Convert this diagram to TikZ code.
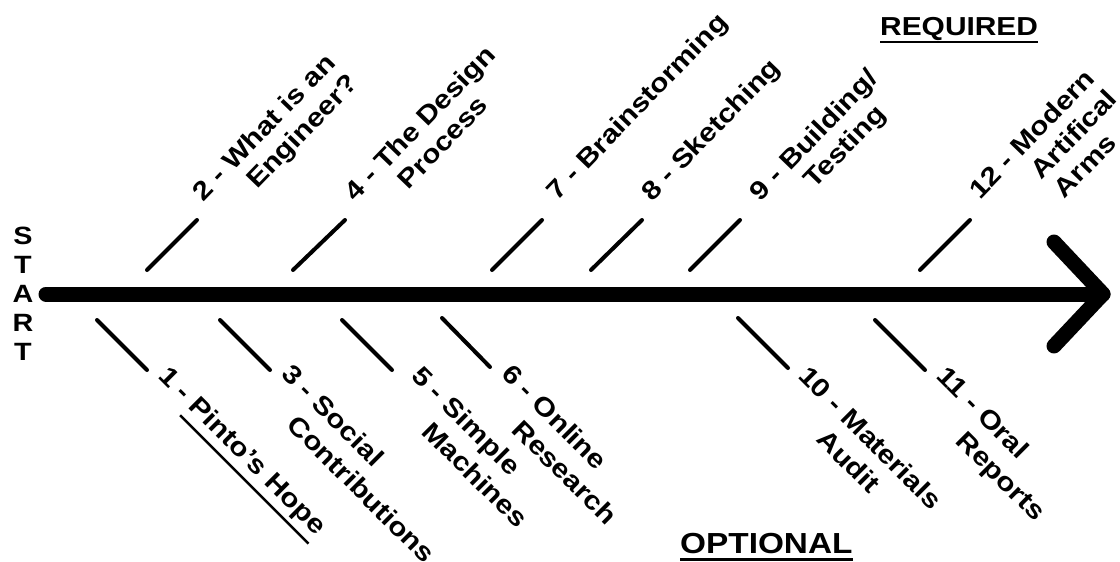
\documentclass[tikz,border=0pt]{standalone}
\usepackage{fontspec}
\setmainfont{Liberation Sans}[FakeStretch=1.15]
\newcommand\myul[2]{\setbox0\hbox{#2}\rlap{\rule[-#1]{\wd0}{2.5pt}}\box0}
\begin{document}
\begin{tikzpicture}[x=1pt,y=-1pt,
  lab/.style={font=\bfseries\fontsize{26}{31}\selectfont, inner sep=0pt, anchor=base west},
  uplab/.style={lab, rotate=46},
  dnlab/.style={lab, rotate=-45},
  tickline/.style={line width=4pt, line cap=round},
  spine/.style={line width=15pt, line cap=round, line join=round}]
\useasboundingbox[fill=white] (0,0) rectangle (1120,562);

% spine
\node[font=\bfseries\fontsize{25}{29}\selectfont, align=center, inner sep=0pt] (start) at (23,294) {S\\T\\A\\R\\T};
\coordinate (tail) at (46,294);
\coordinate (tip) at (1103,294);
\coordinate (barbU) at (1054,242);
\coordinate (barbD) at (1054,346);
\draw[spine] (tail) -- (tip);
\draw[spine] (barbU) -- (tip) -- (barbD);

% upper ticks
\draw[tickline] (147,270) -- (197,220);
\draw[tickline] (293,270) -- (345,220);
\draw[tickline] (492,270) -- (542,220);
\draw[tickline] (591,270) -- (642,220);
\draw[tickline] (690,270) -- (740,220);
\draw[tickline] (920,270) -- (970,220);
% lower ticks
\draw[tickline] (97,320) -- (147,370);
\draw[tickline] (220,320) -- (270,370);
\draw[tickline] (342,320) -- (392,370);
\draw[tickline] (442,318) -- (490,367);
\draw[tickline] (738,318) -- (788,368);
\draw[tickline] (875,320) -- (925,370);

% upper labels
\begin{scope}[shift={(203,203)}, rotate=46]
  \node[uplab] (l2a) at (0,0) {2 - What is an};
  \node[uplab] (l2b) at (47,30) {Engineer?};
\end{scope}
\begin{scope}[shift={(355,203)}, rotate=46]
  \node[uplab] (l4a) at (0,0) {4 - The Design};
  \node[uplab] (l4b) at (46,30) {Process};
\end{scope}
\node[uplab] (l7) at (557,202) {7 - Brainstorming};
\node[uplab] (l8) at (652,203) {8 - Sketching};
\begin{scope}[shift={(760,203)}, rotate=46]
  \node[uplab] (l9a) at (0,0) {9 - Building/};
  \node[uplab] (l9b) at (47,30) {Testing};
\end{scope}
\begin{scope}[shift={(980,201)}, rotate=46]
  \node[uplab] (l12a) at (0,0) {12 - Modern};
  \node[uplab] (l12b) at (57,30) {Artifical};
  \node[uplab] (l12c) at (60,60) {Arms};
\end{scope}

% lower labels
\node[dnlab] (l1) at (157,377) {1 - \myul{12pt}{Pinto's Hope}};
\begin{scope}[shift={(280,375)}, rotate=-45]
  \node[dnlab] (l3a) at (0,0) {3 - Social};
  \node[dnlab] (l3b) at (40,32) {Contributions};
\end{scope}
\begin{scope}[shift={(410,377)}, rotate=-45]
  \node[dnlab] (l5a) at (0,0) {5 - Simple};
  \node[dnlab] (l5b) at (47,32) {Machines};
\end{scope}
\begin{scope}[shift={(500,375)}, rotate=-45]
  \node[dnlab] (l6a) at (0,0) {6 - Online};
  \node[dnlab] (l6b) at (47,32) {Research};
\end{scope}
\begin{scope}[shift={(797,377)}, rotate=-45]
  \node[dnlab] (l10a) at (0,0) {10 - Materials};
  \node[dnlab] (l10b) at (58,32) {Audit};
\end{scope}
\begin{scope}[shift={(935,377)}, rotate=-45]
  \node[dnlab] (l11a) at (0,0) {11 - Oral};
  \node[dnlab] (l11b) at (60,32) {Reports};
\end{scope}

% headings
\node[lab] (req) at (880,35) {\myul{8.2pt}{REQUIRED}};
\node[lab, font=\bfseries\fontsize{29}{34}\selectfont] (opt) at (680,553) {\myul{7.5pt}{OPTIONAL}};
\end{tikzpicture}
\end{document}
